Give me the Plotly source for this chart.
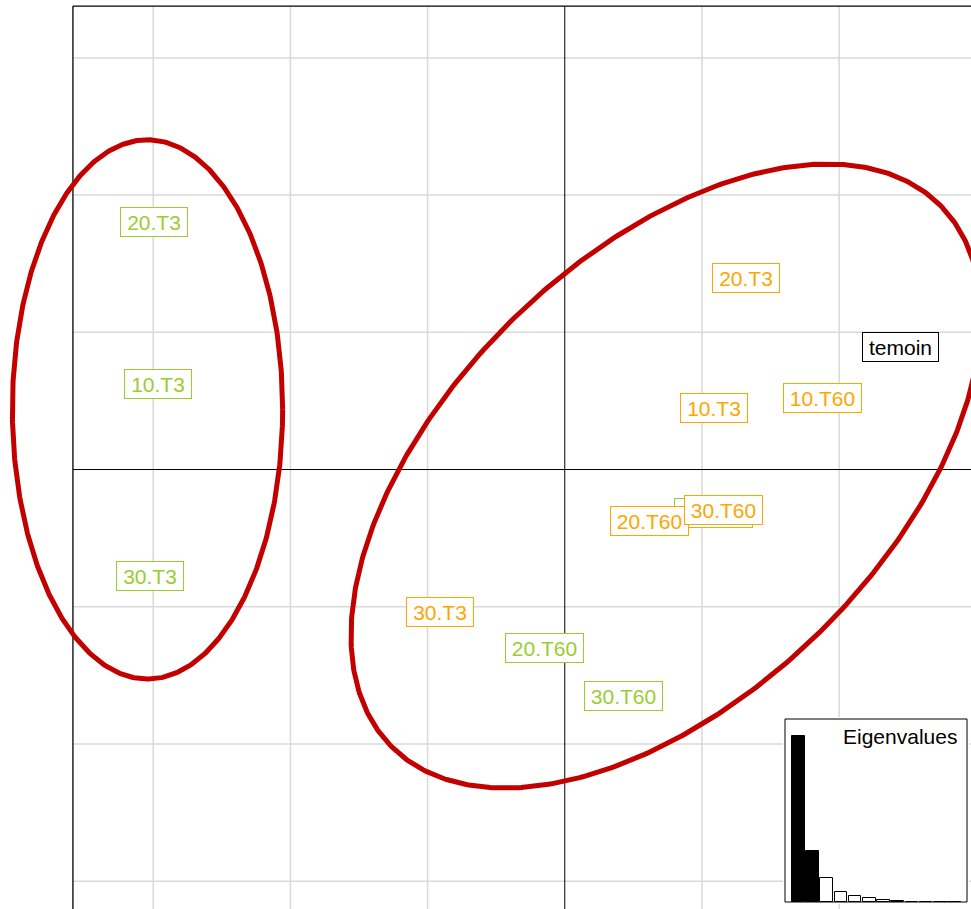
import numpy as np
import plotly.graph_objects as go

# ---------------- data ----------------
green_labels = ["20.T3", "10.T3", "30.T3", "10.T60", "20.T60", "30.T60"]
green_x = [-2.994, -2.965, -3.021, 1.082, -0.150, 0.430]
green_y = [1.804, 0.627, -0.773, -0.316, -1.303, -1.652]

orange_labels = ["20.T3", "10.T3", "10.T60", "30.T3", "20.T60", "30.T60"]
orange_x = [1.324, 1.089, 1.877, -0.909, 0.619, 1.155]
orange_y = [1.399, 0.448, 0.521, -1.035, -0.377, -0.297]

control_labels = ["temoin"]
control_x = [2.448]
control_y = [0.893]

# group ellipses: centre, variances and covariance
ellipse_cx = [-3.0415, 0.7376]
ellipse_cy = [0.438, -0.0474]
ellipse_vx = [0.985 ** 2, 5.271]
ellipse_vy = [1.965 ** 2, 5.171]
ellipse_cxy = [0.0, 2.669]

eigenvalues = [3.32, 1.02, 0.488, 0.200, 0.128, 0.088, 0.034, 0.028, 0.008, 0.006, 0.004, 0.002]
n_selected = 2

grid_x = [-3, -2, -1, 1, 2]
grid_y = [-3, -2, -1, 1, 2, 3]

# ---------------- styling ----------------
GREEN = "#9ACD32"
ORANGE = "#FFA500"
RED = "#C30000"
GRID = "#D9D9D9"
FONT = "Liberation Sans, Arial, sans-serif"
FS = 21

X_RANGE = [-4.1166, 2.961]
Y_RANGE = [-3.203, 3.422]
FRAME_LEFT = -3.585
FRAME_TOP = 3.378

ARIAL_W = {'0': .556, '1': .556, '2': .556, '3': .556, '6': .556, '.': .278,
           'T': .611, 't': .278, 'e': .556, 'm': .833, 'o': .556, 'i': .222, 'n': .556}


def text_w(s):
    return sum(ARIAL_W.get(c, .556) for c in s) * FS


fig = go.Figure()

# ellipses
t = np.linspace(0, 2 * np.pi, 600)
for cx, cy, vx, vy, cxy in zip(ellipse_cx, ellipse_cy, ellipse_vx, ellipse_vy, ellipse_cxy):
    M = np.array([[vx, cxy], [cxy, vy]])
    w, V = np.linalg.eigh(M)
    L = V @ np.diag(np.sqrt(w))
    pts = L @ np.vstack([np.cos(t), np.sin(t)])
    fig.add_trace(go.Scatter(x=cx + pts[0], y=cy + pts[1], mode="lines",
                             line=dict(color=RED, width=5),
                             hoverinfo="skip", showlegend=False,
                             xaxis="x", yaxis="y"))

# eigenvalue inset bars
bar_colors = ["black" if i < n_selected else "white" for i in range(len(eigenvalues))]
fig.add_trace(go.Bar(x=list(range(1, len(eigenvalues) + 1)), y=eigenvalues,
                     marker=dict(color=bar_colors, line=dict(color="black", width=1)),
                     width=0.9, xaxis="x2", yaxis="y2", showlegend=False,
                     hoverinfo="skip"))

shapes = []
# grid
for gx in grid_x:
    shapes.append(dict(type="line", xref="x", yref="y", x0=gx, x1=gx,
                       y0=Y_RANGE[0], y1=FRAME_TOP, layer="below",
                       line=dict(color=GRID, width=1.5)))
for gy in grid_y:
    shapes.append(dict(type="line", xref="x", yref="y", x0=FRAME_LEFT, x1=X_RANGE[1],
                       y0=gy, y1=gy, layer="below",
                       line=dict(color=GRID, width=1.5)))
# axes through origin
shapes.append(dict(type="line", xref="x", yref="y", x0=0, x1=0,
                   y0=Y_RANGE[0], y1=FRAME_TOP, layer="below",
                   line=dict(color="black", width=1)))
shapes.append(dict(type="line", xref="x", yref="y", x0=FRAME_LEFT, x1=X_RANGE[1],
                   y0=0, y1=0, layer="below",
                   line=dict(color="black", width=1)))
# frame (left & top)
shapes.append(dict(type="line", xref="x", yref="y", x0=FRAME_LEFT, x1=FRAME_LEFT,
                   y0=Y_RANGE[0], y1=FRAME_TOP, layer="below",
                   line=dict(color="black", width=1.3)))
shapes.append(dict(type="line", xref="x", yref="y", x0=FRAME_LEFT, x1=X_RANGE[1],
                   y0=FRAME_TOP, y1=FRAME_TOP, layer="below",
                   line=dict(color="black", width=1.3)))
# inset box
X2_RANGE = [-0.0775, 13.021]
Y2_RANGE = [-0.04, 3.70]
shapes.append(dict(type="rect", xref="x2", yref="y2", x0=0.0634, x1=12.880,
                   y0=0, y1=3.66, layer="below", fillcolor="white",
                   line=dict(color="black", width=1)))

annotations = []


def add_labels(labels, xs, ys, color):
    for lab, x, y in zip(labels, xs, ys):
        annotations.append(dict(x=x, y=y, xref="x", yref="y", text=lab,
                                showarrow=False, font=dict(family=FONT, size=FS, color=color),
                                bgcolor="white", bordercolor=color, borderwidth=1,
                                borderpad=0, width=round(text_w(lab) + 12), height=28,
                                xanchor="center", yanchor="middle"))


add_labels(green_labels, green_x, green_y, GREEN)
add_labels(orange_labels, orange_x, orange_y, ORANGE)
add_labels(control_labels, control_x, control_y, "black")

annotations.append(dict(x=959 / 971, y=(909 - 736) / 909, xref="paper", yref="paper",
                        text="Eigenvalues", showarrow=False,
                        font=dict(family=FONT, size=FS, color="black"),
                        xanchor="right", yanchor="middle"))

fig.update_layout(
    width=971, height=909,
    margin=dict(l=0, r=0, t=0, b=0),
    paper_bgcolor="white", plot_bgcolor="white",
    showlegend=False,
    xaxis=dict(range=X_RANGE, showgrid=False, zeroline=False, showticklabels=False,
               ticks="", showline=False, domain=[0, 1], fixedrange=True),
    yaxis=dict(range=Y_RANGE, showgrid=False, zeroline=False, showticklabels=False,
               ticks="", showline=False, domain=[0, 1], fixedrange=True),
    xaxis2=dict(range=X2_RANGE, domain=[783 / 971, 969 / 971], anchor="y2",
                showgrid=False, zeroline=False, showticklabels=False, ticks="",
                showline=False, fixedrange=True),
    yaxis2=dict(range=Y2_RANGE, domain=[(909 - 904) / 909, (909 - 717) / 909], anchor="x2",
                showgrid=False, zeroline=False, showticklabels=False, ticks="",
                showline=False, fixedrange=True),
    shapes=shapes,
    annotations=annotations,
    bargap=0,
)

fig.write_html("out.html", config={"displayModeBar": False},
               post_script="document.body.style.margin='0';document.body.style.overflow='hidden';")
